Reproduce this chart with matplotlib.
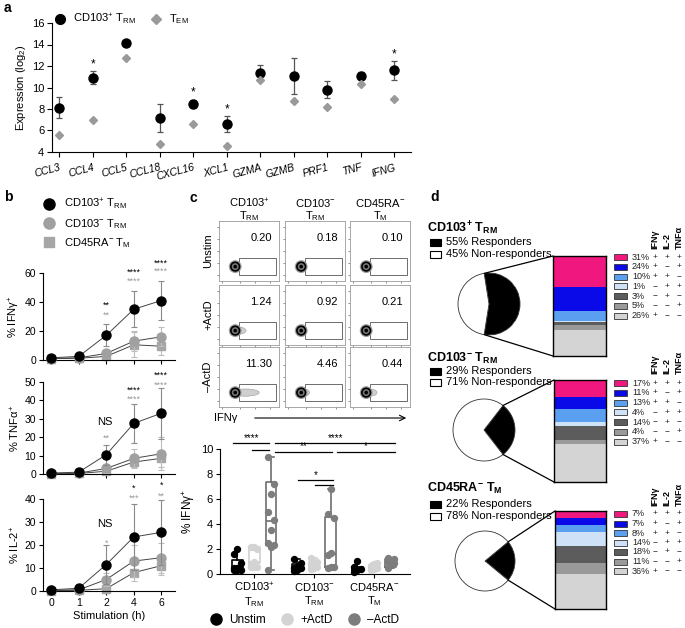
import numpy as np
import matplotlib
matplotlib.use('Agg')
import matplotlib.pyplot as plt
from matplotlib.lines import Line2D
from matplotlib.patches import Rectangle, ConnectionPatch, Ellipse

plt.rcParams['font.family'] = ['Liberation Sans', 'DejaVu Sans']
plt.rcParams['mathtext.fontset'] = 'custom'
plt.rcParams['mathtext.rm'] = 'Liberation Sans'
plt.rcParams['mathtext.it'] = 'Liberation Sans:italic'
plt.rcParams['mathtext.bf'] = 'Liberation Sans:bold'
plt.rcParams['axes.linewidth'] = 0.8
plt.rcParams['xtick.major.width'] = 0.8
plt.rcParams['ytick.major.width'] = 0.8

# ---- panel a: gene expression ----
genes = ['CCL3', 'CCL4', 'CCL5', 'CCL18', 'CXCL16', 'XCL1', 'GZMA', 'GZMB', 'PRF1', 'TNF', 'IFNG']
trm_mean = [8.12, 10.9, 14.15, 7.16, 8.5, 6.57, 11.38, 11.07, 9.8, 11.1, 11.6]
trm_err = [0.95, 0.62, 0.1, 1.26, 0.38, 0.74, 0.72, 1.68, 0.8, 0.33, 0.86]
tem_mean = [5.6, 6.94, 12.75, 4.7, 6.6, 4.52, 10.67, 8.78, 8.21, 10.29, 8.92]
a_sig = ['', '*', '', '', '*', '*', '', '', '', '', '*']

# ---- panel b: cytokine time course ----
hours = ['0', '1', '2', '4', '6']
ifng_pos = [1.5, 2.5, 17, 35, 41]
ifng_pos_err = [0.5, 0.8, 7.5, 12.5, 13.5]
ifng_neg = [1.0, 1.5, 4.5, 13, 16]
ifng_neg_err = [0.5, 0.8, 2.5, 7, 6.5]
ifng_ra = [1.0, 1.2, 2.5, 10.5, 9.5]
ifng_ra_err = [0.5, 0.6, 2, 8.5, 6]
tnf_pos = [0.5, 1.0, 10.5, 27.5, 33]
tnf_pos_err = [0.3, 0.5, 5.5, 10.5, 14]
tnf_neg = [0.3, 0.5, 3.0, 8.5, 11]
tnf_neg_err = [0.2, 0.3, 2.5, 5, 9]
tnf_ra = [0.2, 0.3, 1.5, 6.5, 8.5]
tnf_ra_err = [0.1, 0.2, 1.5, 2.5, 4.5]
il2_pos = [0.5, 1.2, 11.5, 23.5, 25.5]
il2_pos_err = [0.5, 2.0, 8.5, 14.5, 14]
il2_neg = [0.3, 0.5, 5.0, 13, 14.5]
il2_neg_err = [0.3, 0.5, 3, 7, 6.5]
il2_ra = [0.2, 0.3, 1.0, 8, 11]
il2_ra_err = [0.2, 0.3, 1, 3.5, 4]
# significance stars: (time index, black text, black y, grey text, grey y)
ifng_stars = [(2, '**', 37.5, '**', 31), (3, '****', 60.5, '****', 54.5), (4, '****', 67, '****', 61)]
tnf_stars = [(2, '', 0, '**', 19.5), (3, '****', 45.5, '****', 40.5), (4, '****', 53.5, '****', 48.3)]
il2_stars = [(2, '', 0, '*', 20.8), (3, '*', 44.5, '***', 40.3), (4, '*', 46, '**', 41)]

# ---- panel c: flow plots and IFNg box plot ----
flow_cols = [r'CD103$^{+}$', r'CD103$^{-}$', r'CD45RA$^{-}$']
flow_cols2 = [r'T$_\mathrm{RM}$', r'T$_\mathrm{RM}$', r'T$_\mathrm{M}$']
flow_rows = ['Unstim', '+ActD', '\u2013ActD']
flow_pct = [['0.20', '0.18', '0.10'], ['1.24', '0.92', '0.21'], ['11.30', '4.46', '0.44']]
flow_tail = [[0.0, 0.0, 0.0], [0.12, 0.0, 0.0], [0.34, 0.08, 0.12]]

c_groups = [r'CD103$^{+}$' + '\n' + r'T$_\mathrm{RM}$', r'CD103$^{-}$' + '\n' + r'T$_\mathrm{RM}$',
            r'CD45RA$^{-}$' + '\n' + r'T$_\mathrm{M}$']
c_conditions = ['Unstim', '+ActD', '\u2013ActD']
c_points = [
    [[0.3, 0.3, 0.35, 0.45, 0.5, 0.85, 1.6, 2.0],
     [0.55, 0.6, 0.6, 0.8, 1.0, 2.0, 2.2, 2.2],
     [0.35, 2.2, 2.3, 2.5, 3.5, 4.3, 5.0, 6.4, 7.2, 9.4]],
    [[0.25, 0.35, 0.45, 0.5, 0.6, 0.9, 1.2],
     [0.4, 0.5, 0.6, 0.8, 0.9, 1.0, 1.25],
     [0.5, 0.55, 0.6, 1.5, 1.7, 4.5, 4.8, 6.8]],
    [[0.2, 0.3, 0.4, 0.6, 1.05],
     [0.3, 0.4, 0.5, 0.65, 0.8, 0.85],
     [0.5, 0.7, 0.9, 1.0, 1.15, 1.2, 1.25]],
]
c_q1 = [[0.3, 0.85, 2.35], [0.35, 0.5, 0.6], [0.3, 0.35, 0.6]]
c_med = [[0.45, 1.0, 4.27], [0.5, 0.7, 1.6], [0.4, 0.55, 0.95]]
c_q3 = [[1.1, 2.15, 7.4], [0.8, 1.0, 4.6], [0.6, 0.75, 1.2]]
# significance bars: x start, x end, y, label
c_sig = [(-0.35, 0.25, 10.45, '****'), (-0.03, 0.25, 9.9, ''),
         (0.35, 2.35, 10.45, '****'), (0.35, 1.3, 9.75, '**'), (1.38, 2.35, 9.75, '*'),
         (0.73, 1.32, 7.5, '*'), (1.02, 1.32, 7.1, '')]

# ---- panel d: responder pies and polyfunctionality bars ----
d_titles = [r'CD103$^\mathbf{+}$ T$_\mathbf{RM}$', r'CD103$^\mathbf{-}$ T$_\mathbf{RM}$',
            r'CD45RA$^\mathbf{-}$ T$_\mathbf{M}$']
d_responders = [55, 29, 22]
d_fractions = [[31, 24, 10, 1, 3, 5, 26],
               [17, 11, 13, 4, 14, 4, 37],
               [7, 7, 8, 14, 18, 11, 36]]
d_colors = ['#f0177f', '#0a0ae8', '#5b9ff0', '#cfe1f7', '#5c5c5c', '#9a9a9a', '#d4d4d4']
d_cytokines = ['IFN\u03b3', 'IL-2', 'TNF\u03b1']
d_signs = [['+', '+', '+'], ['+', '\u2212', '+'], ['+', '+', '\u2212'], ['\u2212', '+', '+'],
           ['\u2212', '+', '\u2212'], ['\u2212', '\u2212', '+'], ['+', '\u2212', '\u2212']]

W, H = 685, 628
fig = plt.figure(figsize=(W / 100, H / 100), dpi=100)
ov = fig.add_axes([0, 0, 1, 1])
ov.set_xlim(0, W)
ov.set_ylim(H, 0)
ov.axis('off')


def add_ax(x0, y0, x1, y1):
    return fig.add_axes([x0 / W, 1 - y1 / H, (x1 - x0) / W, (y1 - y0) / H])


def clean(ax):
    ax.spines['top'].set_visible(False)
    ax.spines['right'].set_visible(False)


for lab, (lx, ly) in zip('abcd', [(4, 8), (4, 197), (190, 198), (430, 197)]):
    ov.text(lx, ly, lab, fontsize=10, fontweight='bold', va='center')

# ---------------- panel a ----------------
ax = add_ax(52, 23, 411, 152)
x = np.arange(len(genes))
ax.errorbar(x, trm_mean, yerr=trm_err, fmt='none', ecolor='#555555', elinewidth=0.9, capsize=2, capthick=0.9)
ax.plot(x, trm_mean, 'o', color='black', ms=6.5, zorder=3)
ax.plot(x, tem_mean, 'D', color='#9a9a9a', ms=4.5, zorder=3)
for xi, m, e, s in zip(x, trm_mean, trm_err, a_sig):
    if s:
        ax.text(xi, m + e + 0.1, s, ha='center', va='bottom', fontsize=8.5)
ax.set_xlim(-0.22, 10.5)
ax.set_ylim(4, 16)
ax.set_yticks(range(4, 17, 2))
ax.set_xticks(x)
ax.set_xticklabels(genes, rotation=15, style='italic', fontsize=7.5, ha='right', va='top',
                   rotation_mode='anchor')
ax.tick_params(axis='y', labelsize=8, length=3.5, pad=2)
ax.tick_params(axis='x', length=3.5, pad=4)
ax.set_ylabel(r'Expression (log$_2$)', fontsize=8, labelpad=3)
clean(ax)
handles = [Line2D([], [], marker='o', color='black', ls='', ms=7),
           Line2D([], [], marker='D', color='#9a9a9a', ls='', ms=5)]
ax.legend(handles, [r'CD103$^{+}$ T$_\mathrm{RM}$', r'T$_\mathrm{EM}$'], ncol=2, frameon=False,
          loc='lower left', bbox_to_anchor=(-0.01, 0.97), fontsize=8, handletextpad=0.2,
          columnspacing=0.8, borderaxespad=0, borderpad=0)

# ---------------- panel b ----------------
b_data = [
    (273, 360, 60, [0, 20, 40, 60], '% IFN\u03b3$^{+}$', (ifng_pos, ifng_pos_err), (ifng_neg, ifng_neg_err),
     (ifng_ra, ifng_ra_err), ifng_stars, None),
    (382, 474, 50, [0, 10, 20, 30, 40, 50], '% TNF\u03b1$^{+}$', (tnf_pos, tnf_pos_err), (tnf_neg, tnf_neg_err),
     (tnf_ra, tnf_ra_err), tnf_stars, 28),
    (499, 591, 40, [0, 10, 20, 30, 40], '% IL-2$^{+}$', (il2_pos, il2_pos_err), (il2_neg, il2_neg_err),
     (il2_ra, il2_ra_err), il2_stars, 29),
]
xt = np.arange(len(hours))
for i, (y0, y1, ymax, yt, ylab, pos, neg, ra, stars, ns_y) in enumerate(b_data):
    ax = add_ax(43, y0, 175, y1)
    for (vals, err), mk, col, ecol, z in [(ra, 's', '#a6a6a6', '#bdbdbd', 2), (neg, 'o', '#a0a0a0', '#bdbdbd', 3),
                                       (pos, 'o', 'black', '#8a8a8a', 4)]:
        ax.errorbar(xt, vals, yerr=err, fmt='none', ecolor=ecol, elinewidth=0.8, capsize=2.5, capthick=0.8,
                    zorder=z, clip_on=False)
        ax.plot(xt, vals, '-', color='#444444', lw=0.7, zorder=z)
        ax.plot(xt, vals, mk, color=col, ms=6.5 if mk == 'o' else 6, zorder=z + 0.5, clip_on=False)
    for ti, bt, by, gt, gy in stars:
        if bt:
            ax.text(ti, by, bt, ha='center', va='center', fontsize=6.5, color='black', clip_on=False)
        ax.text(ti, gy, gt, ha='center', va='center', fontsize=6.5, color='#9a9a9a', clip_on=False)
    if ns_y:
        ax.text(1.95, ns_y, 'NS', ha='center', va='center', fontsize=8)
    ax.set_xlim(-0.3, 4.5)
    ax.set_ylim(0, ymax)
    ax.set_yticks(yt)
    ax.set_xticks(xt)
    ax.tick_params(labelsize=7.5, length=3, pad=2)
    if i < 2:
        ax.set_xticklabels([])
    else:
        ax.set_xticklabels(hours)
        ax.set_xlabel('Stimulation (h)', fontsize=8, labelpad=2)
    ax.set_ylabel(ylab, fontsize=8, labelpad=2)
    clean(ax)

b_handles = [Line2D([], [], marker='o', color='black', ls='', ms=8),
             Line2D([], [], marker='o', color='#a0a0a0', ls='', ms=8),
             Line2D([], [], marker='s', color='#a6a6a6', ls='', ms=7)]
b_labels = [r'CD103$^{+}$ T$_\mathrm{RM}$', r'CD103$^{-}$ T$_\mathrm{RM}$', r'CD45RA$^{-}$ T$_\mathrm{M}$']
ov.legend(b_handles, b_labels, loc='upper left', bbox_to_anchor=(38 / W, 1 - 197 / H), frameon=False,
          fontsize=8, handletextpad=0.3, labelspacing=0.45, borderaxespad=0, borderpad=0)

# ---------------- panel c: flow ----------------
col_x = [219, 285, 350]
row_y = [221, 285, 347]
for j, cx in enumerate(col_x):
    ov.text(cx + 30, 203, flow_cols[j], ha='center', va='center', fontsize=8)
    ov.text(cx + 30, 216, flow_cols2[j], ha='center', va='center', fontsize=8)
for i, ry in enumerate(row_y):
    ov.text(208, ry + 30, flow_rows[i], ha='center', va='center', rotation=90, fontsize=8)
    for j, cx in enumerate(col_x):
        fx = add_ax(cx, ry, cx + 60, ry + 60)
        fx.set_xlim(0, 1)
        fx.set_ylim(0, 1)
        for sp in fx.spines.values():
            sp.set_color('#9a9a9a')
            sp.set_linewidth(0.6)
        fx.set_xticks([0.05, 0.35, 0.6, 0.85])
        fx.set_yticks([0.1, 0.3, 0.5, 0.7, 0.9])
        fx.set_xticklabels([])
        fx.set_yticklabels([])
        fx.tick_params(length=1.5, width=0.5, color='#666666')
        fx.add_patch(Rectangle((0.34, 0.1), 0.61, 0.28, fill=False, ec='#555555', lw=0.6))
        tail = flow_tail[i][j]
        if tail:
            fx.add_patch(Ellipse((0.27 + tail / 2, 0.24), tail + 0.12, 0.12, fc='#cfcfcf', ec='#999999', lw=0.4))
        fx.scatter([0.27] * 4, [0.24] * 4, s=[85, 55, 25, 7], c=['#9a9a9a', 'black', '#777777', 'black'],
                   lw=0, zorder=3)
        fx.text(0.88, 0.72, flow_pct[i][j], ha='right', va='center', fontsize=8)
ov.text(214, 418, 'IFN\u03b3', ha='left', va='center', fontsize=8)
ov.annotate('', xy=(409, 418), xytext=(252, 418), arrowprops=dict(arrowstyle='->', lw=0.8, color='black'))

# ---------------- panel c: box plot ----------------
ax = add_ax(220, 449, 410, 574)
offs = [-0.28, 0.0, 0.28]
pt_colors = ['black', '#d3d3d3', '#7d7d7d']
box_colors = ['black', '#d0d0d0', '#6e6e6e']
for g in range(3):
    for k in range(3):
        pos = g + offs[k]
        pts = c_points[g][k]
        stats = [dict(med=c_med[g][k], q1=c_q1[g][k], q3=c_q3[g][k], whislo=min(pts), whishi=max(pts))]
        ax.bxp(stats, positions=[pos], widths=0.18, showfliers=False, patch_artist=False,
               boxprops=dict(color=box_colors[k], lw=1.2), medianprops=dict(color=box_colors[k], lw=1.2),
               whiskerprops=dict(color=box_colors[k], lw=1.2), capprops=dict(color=box_colors[k], lw=1.2),
               manage_ticks=False)
        n = len(pts)
        jit = [((r % 3) - 1) * 0.055 for r in range(n)]
        ax.scatter(np.array(jit) + pos, pts, s=28, color=pt_colors[k], zorder=3, clip_on=False, lw=0)
for xs, xe, yy, lab in c_sig:
    ax.plot([xs, xe], [yy, yy], color='black', lw=0.9, clip_on=False)
    if lab:
        ax.text((xs + xe) / 2, yy + 0.05, lab, ha='center', va='bottom', fontsize=7, clip_on=False)
ax.set_xlim(-0.57, 2.6)
ax.set_ylim(0, 10)
ax.set_yticks(range(0, 11, 2))
ax.set_xticks([0, 1, 2])
ax.set_xticklabels(c_groups, fontsize=8.5, linespacing=1.1)
ax.tick_params(labelsize=8, length=3, pad=2)
ax.set_ylabel('% IFN\u03b3$^{+}$', fontsize=8.5, labelpad=3)
clean(ax)
c_handles = [Line2D([], [], marker='o', color=c, ls='', ms=8) for c in pt_colors]
ax.legend(c_handles, c_conditions, ncol=3, frameon=False, loc='upper center', bbox_to_anchor=(0.43, -0.28),
          fontsize=8.5, handletextpad=0.1, columnspacing=0.8, borderaxespad=0)

# ---------------- panel d ----------------
d_title_y = [228, 358, 488]
d_leg_y = [(242, 254), (371, 382), (504, 516)]
d_pies = [(489, 304, 31), (484, 430, 31), (485, 561, 30)]
d_bars = [(553, 256, 606, 356), (554, 380, 606, 482), (555, 511, 606, 609)]
d_row0 = [257, 383, 514]
d_dy = [9.8, 9.8, 9.5]
d_head = [249, 374, 506]
sign_x = [655, 667, 679]
for b in range(3):
    ov.text(427, d_title_y[b], d_titles[b], fontsize=9, va='center', fontweight='bold')
    r = d_responders[b]
    for yy, fc, txt in [(d_leg_y[b][0], 'black', f'{r}% Responders'),
                        (d_leg_y[b][1], 'white', f'{100 - r}% Non-responders')]:
        ov.add_patch(Rectangle((430, yy - 3.5), 11, 7, fc=fc, ec='black', lw=0.8))
        ov.text(446, yy, txt, fontsize=8, va='center')
    cx, cy, rad = d_pies[b]
    pax = add_ax(cx - rad * 1.05, cy - rad * 1.05, cx + rad * 1.05, cy + rad * 1.05)
    pax.pie([r, 100 - r], colors=['black', 'white'], startangle=-r * 1.8, counterclock=True,
            wedgeprops=dict(edgecolor='#333333', linewidth=0.6))
    pax.set_xlim(-1.05, 1.05)
    pax.set_ylim(-1.05, 1.05)
    x0, y0, x1, y1 = d_bars[b]
    bax = add_ax(x0, y0, x1, y1)
    cum = 0
    for v, col in zip(d_fractions[b], d_colors):
        bax.bar(0, v, bottom=cum, width=1, color=col, edgecolor='none')
        cum += v
    bax.set_xlim(-0.5, 0.5)
    bax.set_ylim(cum, 0)
    bax.set_xticks([])
    bax.set_yticks([])
    for sp in bax.spines.values():
        sp.set_linewidth(1.0)
    ang = np.deg2rad(r * 1.8)
    for sgn, yb in [(1, 1), (-1, 0)]:
        con = ConnectionPatch(xyA=(np.cos(ang), sgn * np.sin(ang)), coordsA=pax.transData,
                              xyB=(0, yb), coordsB=bax.transAxes, lw=0.9, color='black')
        fig.add_artist(con)
    for k, cname in enumerate(d_cytokines):
        ov.text(sign_x[k], d_head[b], cname, rotation=90, ha='center', va='bottom', fontsize=6.5,
                fontweight='bold')
    for k, (v, col) in enumerate(zip(d_fractions[b], d_colors)):
        yy = d_row0[b] + k * d_dy[b]
        ov.add_patch(Rectangle((614, yy - 3), 13, 6, fc=col, ec='#333333', lw=0.6))
        ov.text(632, yy, f'{v}%', fontsize=6.5, va='center', color='#222222')
        for sx, s in zip(sign_x, d_signs[k]):
            ov.text(sx, yy, s, fontsize=6, ha='center', va='center', color='#222222')

fig.savefig('out.png', dpi=100)
